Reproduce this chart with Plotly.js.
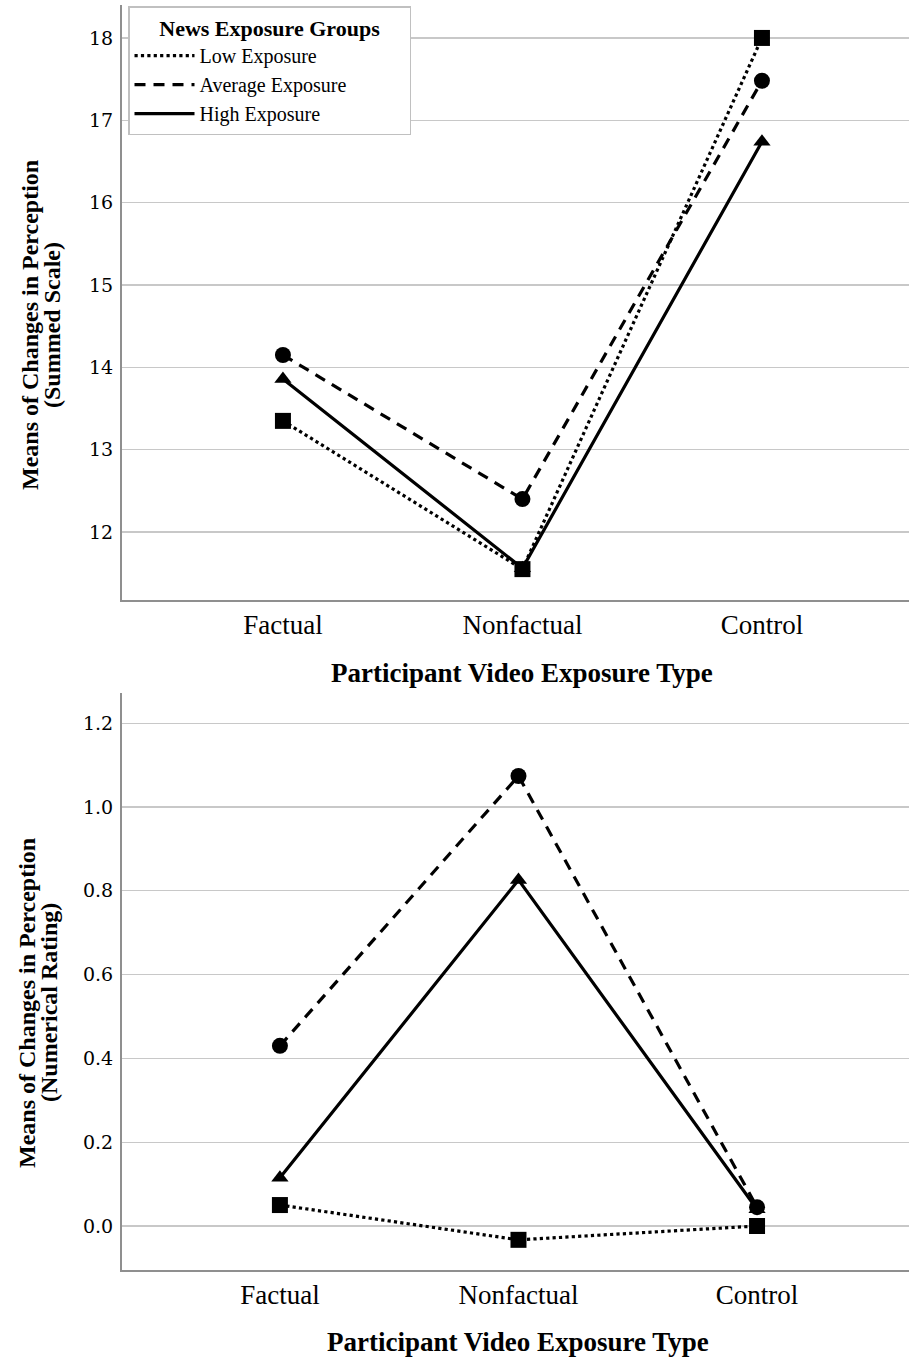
<!DOCTYPE html>
<html><head><meta charset="utf-8">
<script src="https://cdn.plot.ly/plotly-3.0.1.min.js"></script>
<style>body{margin:0;background:#fff}</style>
</head><body>
<div id="chart" style="width:909px;height:1360px"></div>
<script>
const categories = ["Factual", "Nonfactual", "Control"];
const groups = ["Low Exposure", "Average Exposure", "High Exposure"];
// Top panel: Summed Scale
const summedLow = [13.35, 11.55, 18.0];
const summedAvg = [14.15, 12.40, 17.48];
const summedHigh = [13.86, 11.56, 16.74];
// Bottom panel: Numerical Rating
const ratingLow = [0.05, -0.033, 0.0];
const ratingAvg = [0.43, 1.074, 0.045];
const ratingHigh = [0.115, 0.826, 0.04];
const topTicks = [12, 13, 14, 15, 16, 17, 18];
const bottomTicks = [0.0, 0.2, 0.4, 0.6, 0.8, 1.0, 1.2];

const dashes = ["dot", "11px,8px", "solid"];
const symbols = ["square", "circle", "triangle-up"];
const serif = "Liberation Serif, Times New Roman, serif";

const traces = [];
function addPanel(series, xa, ya, showLegend) {
  series.forEach((vals, i) => {
    traces.push({
      x: categories, y: vals, xaxis: xa, yaxis: ya, type: "scatter", mode: "lines",
      name: groups[i], showlegend: showLegend, legendgroup: groups[i],
      line: {color: "#000", width: 3.2, dash: dashes[i]}, hoverinfo: "skip"
    });
  });
  series.forEach((vals, i) => {
    traces.push({
      x: categories, y: vals, xaxis: xa, yaxis: ya, type: "scatter", mode: "markers",
      name: groups[i], showlegend: false, legendgroup: groups[i],
      marker: {color: "#000", size: i === 2 ? 15 : 16, symbol: symbols[i]}
    });
  });
}
addPanel([summedLow, summedAvg, summedHigh], "x", "y", true);
addPanel([ratingLow, ratingAvg, ratingHigh], "x2", "y2", false);

const H = 1360, W = 909;
const axisCommon = {
  showline: true, linecolor: "#8f8f8f", linewidth: 2, ticks: "", zeroline: false
};
const xCommon = Object.assign({}, axisCommon, {
  type: "category", showgrid: false,
  tickfont: {family: serif, size: 27, color: "#000"}
});
const yCommon = Object.assign({}, axisCommon, {
  showgrid: true, gridcolor: "#c8c8c8", gridwidth: 1.3, ticklabelstandoff: 3,
  tickfont: {family: "DejaVu Serif, serif", size: 19, color: "#000"}
});

const layout = {
  width: W, height: H,
  margin: {l: 0, r: 0, t: 0, b: 0},
  paper_bgcolor: "#fff", plot_bgcolor: "#fff",
  xaxis: Object.assign({}, xCommon, {domain: [122 / W, 1], anchor: "y", range: [-0.672, 2.614]}),
  yaxis: Object.assign({}, yCommon, {domain: [1 - 600 / H, 1 - 5 / H], anchor: "x",
    range: [11.175, 18.4], tickvals: topTicks, ticktext: topTicks.map(String)}),
  xaxis2: Object.assign({}, xCommon, {domain: [122 / W, 1], anchor: "y2", range: [-0.662, 2.637]}),
  yaxis2: Object.assign({}, yCommon, {domain: [1 - 1270 / H, 1 - 693 / H], anchor: "x2",
    range: [-0.105, 1.272], tickvals: bottomTicks, ticktext: bottomTicks.map(v => v.toFixed(1))}),
  showlegend: true,
  legend: {
    x: 128 / W, y: 1 - 6 / H, xanchor: "left", yanchor: "top",
    bgcolor: "#fff", bordercolor: "#c0c0c0", borderwidth: 1.5,
    font: {family: serif, size: 20, color: "#000"},
    title: {text: "&nbsp;&nbsp;&nbsp;&nbsp;&nbsp;<b>News Exposure Groups</b>&nbsp;&nbsp;&nbsp;&nbsp;&nbsp;", side: "top center",
            font: {family: serif, size: 22, color: "#000"}},
    tracegroupgap: 0, itemwidth: 60
  },
  annotations: [
    {text: "<b>Means of Changes in Perception</b>", xref: "paper", yref: "paper",
     x: 30 / W, y: 1 - 325 / H, textangle: -90, showarrow: false, xanchor: "center", yanchor: "middle",
     font: {family: serif, size: 24, color: "#000"}},
    {text: "<b>(Summed Scale)</b>", xref: "paper", yref: "paper",
     x: 52 / W, y: 1 - 325 / H, textangle: -90, showarrow: false, xanchor: "center", yanchor: "middle",
     font: {family: serif, size: 24, color: "#000"}},
    {text: "<b>Participant Video Exposure Type</b>", xref: "paper", yref: "paper",
     x: 522 / W, y: 1 - 673 / H, showarrow: false, xanchor: "center", yanchor: "middle",
     font: {family: serif, size: 27, color: "#000"}},
    {text: "<b>Means of Changes in Perception</b>", xref: "paper", yref: "paper",
     x: 27 / W, y: 1 - 1003 / H, textangle: -90, showarrow: false, xanchor: "center", yanchor: "middle",
     font: {family: serif, size: 24, color: "#000"}},
    {text: "<b>(Numerical Rating)</b>", xref: "paper", yref: "paper",
     x: 49 / W, y: 1 - 1003 / H, textangle: -90, showarrow: false, xanchor: "center", yanchor: "middle",
     font: {family: serif, size: 24, color: "#000"}},
    {text: "<b>Participant Video Exposure Type</b>", xref: "paper", yref: "paper",
     x: 518 / W, y: 1 - 1342 / H, showarrow: false, xanchor: "center", yanchor: "middle",
     font: {family: serif, size: 27, color: "#000"}}
  ]
};
Plotly.newPlot("chart", traces, layout, {staticPlot: true, displayModeBar: false});
</script>
</body></html>
